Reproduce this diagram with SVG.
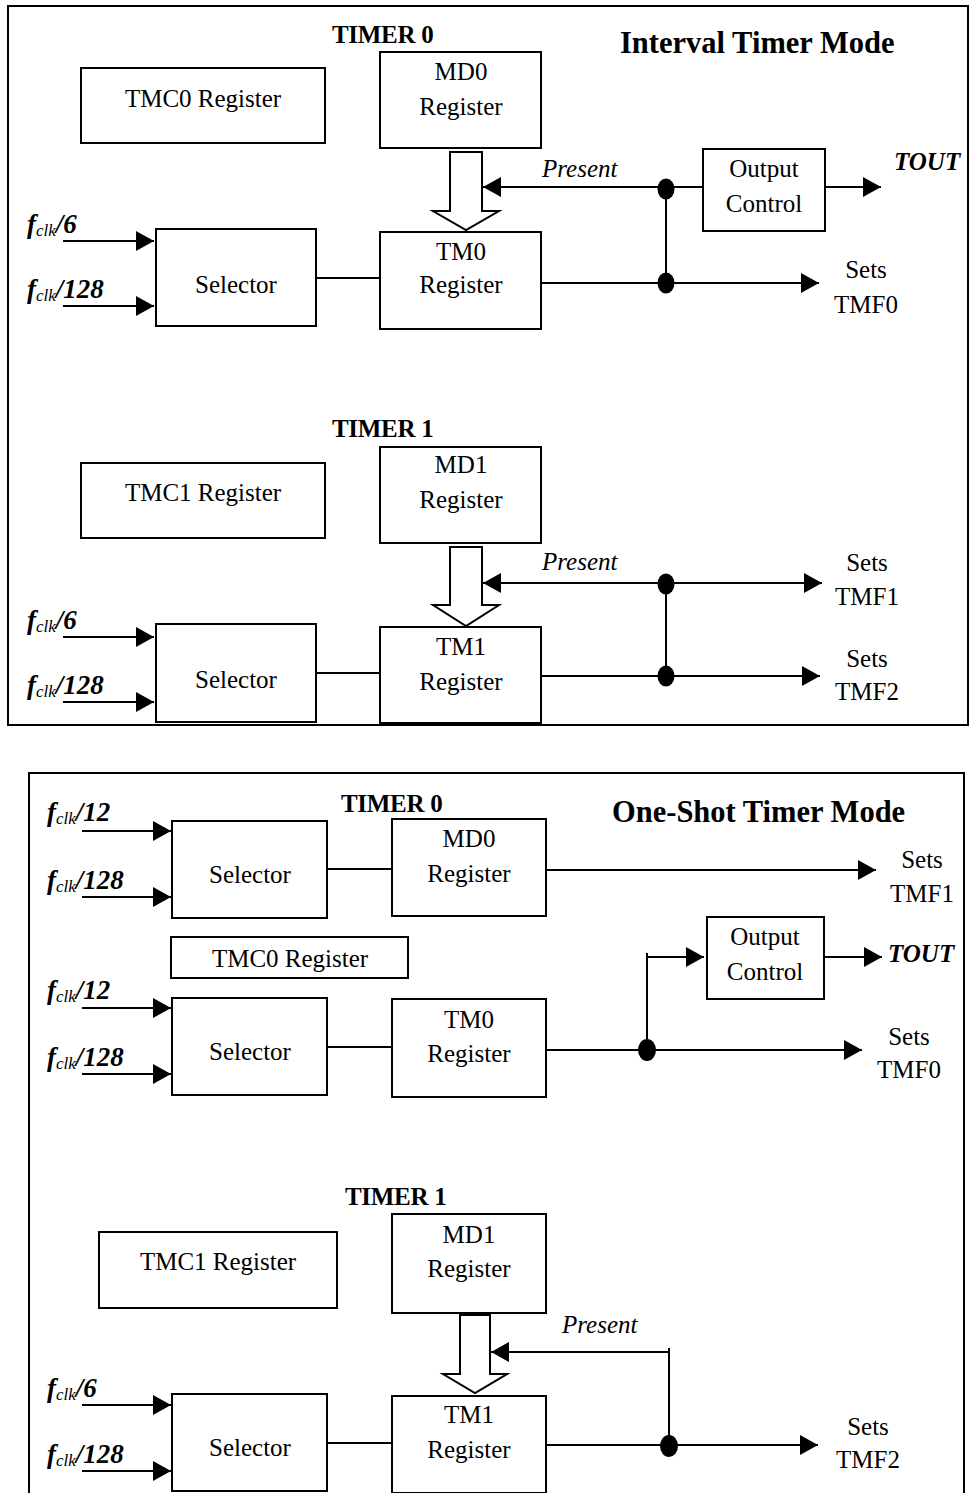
<svg xmlns="http://www.w3.org/2000/svg" width="970" height="1493" viewBox="0 0 970 1493">
<style>
.bx{fill:#fff;stroke:#000;stroke-width:2}
.frame{fill:none;stroke:#000;stroke-width:2}
.ln{fill:none;stroke:#000;stroke-width:2}
.ar{fill:none;stroke:#000;stroke-width:2;marker-end:url(#ah)}
.hol{fill:#fff;stroke:#000;stroke-width:2}
.dot{fill:#000}
text{font-family:"Liberation Serif","Times New Roman",serif;fill:#000}
.t{font-size:25px;text-anchor:middle}
.it{font-size:25px;font-style:italic}
.bi{font-size:25px;font-style:italic;font-weight:bold}
.hd{font-size:25px;font-weight:bold;letter-spacing:-0.3px}
.ttl{font-size:30.5px;font-weight:bold}
.fl{font-size:27px;font-style:italic;font-weight:bold}
.sb{font-size:17px;font-weight:normal}
</style>
<defs>
<marker id="ah" markerUnits="userSpaceOnUse" markerWidth="18" markerHeight="20" refX="18" refY="10" orient="auto">
<path d="M0,0 L18,10 L0,20 z" fill="#000"/>
</marker>
</defs>

<!-- frames -->
<rect class="frame" x="8" y="6" width="960" height="719"/>
<rect class="frame" x="29" y="773" width="935" height="740"/>

<!-- ===== Interval Timer Mode ===== -->
<text class="ttl" x="620" y="53">Interval Timer Mode</text>
<text class="hd" x="332" y="43">TIMER 0</text>
<text class="hd" x="332" y="437">TIMER 1</text>

<g id="connectors-top">
<line class="ar" x1="63" y1="241" x2="154" y2="241"/>
<line class="ar" x1="63" y1="306" x2="154" y2="306"/>
<line class="ln" x1="314" y1="278" x2="380" y2="278"/>
<line class="ar" x1="666" y1="187" x2="483" y2="187"/>
<line class="ln" x1="666" y1="187" x2="703" y2="187"/>
<line class="ar" x1="825" y1="187" x2="881" y2="187"/>
<line class="ln" x1="666" y1="187" x2="666" y2="283"/>
<line class="ar" x1="541" y1="283" x2="819" y2="283"/>
<ellipse class="dot" cx="666" cy="189" rx="8.5" ry="10.5"/>
<ellipse class="dot" cx="666" cy="283" rx="8.5" ry="10.5"/>

<line class="ar" x1="63" y1="637" x2="154" y2="637"/>
<line class="ar" x1="63" y1="702" x2="154" y2="702"/>
<line class="ln" x1="314" y1="673" x2="380" y2="673"/>
<line class="ar" x1="666" y1="583" x2="483" y2="583"/>
<line class="ar" x1="666" y1="583" x2="822" y2="583"/>
<line class="ln" x1="666" y1="583" x2="666" y2="676"/>
<line class="ar" x1="541" y1="676" x2="820" y2="676"/>
<ellipse class="dot" cx="666" cy="584" rx="8.5" ry="10.5"/>
<ellipse class="dot" cx="666" cy="676" rx="8.5" ry="10.5"/>
</g>

<g id="hollow-top">
<polygon class="hol" points="450,152 482,152 482,211 499,211 466,230 433,211 450,211"/>
<polygon class="hol" points="450,547 482,547 482,605 499,605 466,626 433,605 450,605"/>
</g>

<g id="in-t0">
<text class="fl" x="27" y="233">f<tspan class="sb" dy="3">clk</tspan><tspan dy="-3">/6</tspan></text>
<text class="fl" x="27" y="298">f<tspan class="sb" dy="3">clk</tspan><tspan dy="-3">/128</tspan></text>
</g>
<g id="in-t1">
<text class="fl" x="27" y="629">f<tspan class="sb" dy="3">clk</tspan><tspan dy="-3">/6</tspan></text>
<text class="fl" x="27" y="694">f<tspan class="sb" dy="3">clk</tspan><tspan dy="-3">/128</tspan></text>
</g>

<g id="tmc0-a"><rect class="bx" x="81" y="68" width="244" height="75"/><text class="t" x="203" y="107">TMC0 Register</text></g>
<g id="md0-a"><rect class="bx" x="380" y="52" width="161" height="96"/><text class="t" x="461" y="80">MD0</text><text class="t" x="461" y="115">Register</text></g>
<g id="sel0-a"><rect class="bx" x="156" y="229" width="160" height="97"/><text class="t" x="236" y="293">Selector</text></g>
<g id="tm0-a"><rect class="bx" x="380" y="232" width="161" height="97"/><text class="t" x="461" y="260">TM0</text><text class="t" x="461" y="293">Register</text></g>
<g id="oc-a"><rect class="bx" x="703" y="149" width="122" height="82"/><text class="t" x="764" y="177">Output</text><text class="t" x="764" y="212">Control</text></g>
<g id="lbl-a">
<text class="it" x="542" y="177">Present</text>
<text class="bi" x="894" y="170">TOUT</text>
<text class="t" x="866" y="278">Sets</text><text class="t" x="866" y="313">TMF0</text>
</g>

<g id="tmc1-a"><rect class="bx" x="81" y="463" width="244" height="75"/><text class="t" x="203" y="501">TMC1 Register</text></g>
<g id="md1-a"><rect class="bx" x="380" y="447" width="161" height="96"/><text class="t" x="461" y="473">MD1</text><text class="t" x="461" y="508">Register</text></g>
<g id="sel1-a"><rect class="bx" x="156" y="624" width="160" height="98"/><text class="t" x="236" y="688">Selector</text></g>
<g id="tm1-a"><rect class="bx" x="380" y="627" width="161" height="96"/><text class="t" x="461" y="655">TM1</text><text class="t" x="461" y="690">Register</text></g>
<g id="lbl-a1">
<text class="it" x="542" y="570">Present</text>
<text class="t" x="867" y="571">Sets</text><text class="t" x="867" y="605">TMF1</text>
<text class="t" x="867" y="667">Sets</text><text class="t" x="867" y="700">TMF2</text>
</g>

<!-- ===== One-Shot Timer Mode ===== -->
<text class="ttl" x="612" y="822">One-Shot Timer Mode</text>
<text class="hd" x="341" y="812">TIMER 0</text>
<text class="hd" x="345" y="1205">TIMER 1</text>

<g id="connectors-bottom">
<line class="ar" x1="82" y1="831" x2="171" y2="831"/>
<line class="ar" x1="82" y1="897" x2="171" y2="897"/>
<line class="ar" x1="82" y1="1008" x2="171" y2="1008"/>
<line class="ar" x1="82" y1="1074" x2="171" y2="1074"/>
<line class="ar" x1="82" y1="1405" x2="171" y2="1405"/>
<line class="ar" x1="82" y1="1471" x2="171" y2="1471"/>
<line class="ln" x1="324" y1="869" x2="392" y2="869"/>
<line class="ar" x1="546" y1="870" x2="876" y2="870"/>
<line class="ln" x1="327" y1="1047" x2="392" y2="1047"/>
<line class="ar" x1="546" y1="1050" x2="862" y2="1050"/>
<line class="ln" x1="647" y1="953" x2="647" y2="1050"/>
<line class="ar" x1="647" y1="957" x2="704" y2="957"/>
<line class="ar" x1="824" y1="957" x2="882" y2="957"/>
<ellipse class="dot" cx="647" cy="1050" rx="9" ry="11"/>
<line class="ln" x1="325" y1="1443" x2="392" y2="1443"/>
<line class="ar" x1="546" y1="1445" x2="818" y2="1445"/>
<line class="ln" x1="669" y1="1348" x2="669" y2="1446"/>
<line class="ar" x1="669" y1="1352" x2="491" y2="1352"/>
<ellipse class="dot" cx="669" cy="1446" rx="9" ry="11"/>
</g>

<g id="hollow-bottom">
<polygon class="hol" points="460,1315 490,1315 490,1374 507,1374 475,1393 443,1374 460,1374"/>
</g>

<g id="in-b">
<text class="fl" x="47" y="821">f<tspan class="sb" dy="3">clk</tspan><tspan dy="-3">/12</tspan></text>
<text class="fl" x="47" y="889">f<tspan class="sb" dy="3">clk</tspan><tspan dy="-3">/128</tspan></text>
<text class="fl" x="47" y="999">f<tspan class="sb" dy="3">clk</tspan><tspan dy="-3">/12</tspan></text>
<text class="fl" x="47" y="1066">f<tspan class="sb" dy="3">clk</tspan><tspan dy="-3">/128</tspan></text>
<text class="fl" x="47" y="1397">f<tspan class="sb" dy="3">clk</tspan><tspan dy="-3">/6</tspan></text>
<text class="fl" x="47" y="1463">f<tspan class="sb" dy="3">clk</tspan><tspan dy="-3">/128</tspan></text>
</g>

<g id="sel0-b"><rect class="bx" x="172" y="821" width="155" height="97"/><text class="t" x="250" y="883">Selector</text></g>
<g id="md0-b"><rect class="bx" x="392" y="819" width="154" height="97"/><text class="t" x="469" y="847">MD0</text><text class="t" x="469" y="882">Register</text></g>
<g id="tmc0-b"><rect class="bx" x="171" y="937" width="237" height="41"/><text class="t" x="290" y="967">TMC0 Register</text></g>
<g id="sel1-b"><rect class="bx" x="172" y="998" width="155" height="97"/><text class="t" x="250" y="1060">Selector</text></g>
<g id="tm0-b"><rect class="bx" x="392" y="999" width="154" height="98"/><text class="t" x="469" y="1028">TM0</text><text class="t" x="469" y="1062">Register</text></g>
<g id="oc-b"><rect class="bx" x="707" y="917" width="117" height="82"/><text class="t" x="765" y="945">Output</text><text class="t" x="765" y="980">Control</text></g>
<g id="lbl-b">
<text class="t" x="922" y="868">Sets</text><text class="t" x="922" y="902">TMF1</text>
<text class="bi" x="888" y="962">TOUT</text>
<text class="t" x="909" y="1045">Sets</text><text class="t" x="909" y="1078">TMF0</text>
</g>

<g id="tmc1-b"><rect class="bx" x="99" y="1232" width="238" height="76"/><text class="t" x="218" y="1270">TMC1 Register</text></g>
<g id="md1-b"><rect class="bx" x="392" y="1214" width="154" height="99"/><text class="t" x="469" y="1243">MD1</text><text class="t" x="469" y="1277">Register</text></g>
<g id="sel2-b"><rect class="bx" x="172" y="1394" width="155" height="97"/><text class="t" x="250" y="1456">Selector</text></g>
<g id="tm1-b"><rect class="bx" x="392" y="1396" width="154" height="97"/><text class="t" x="469" y="1423">TM1</text><text class="t" x="469" y="1458">Register</text></g>
<g id="lbl-b1">
<text class="it" x="562" y="1333">Present</text>
<text class="t" x="868" y="1435">Sets</text><text class="t" x="868" y="1468">TMF2</text>
</g>
</svg>
